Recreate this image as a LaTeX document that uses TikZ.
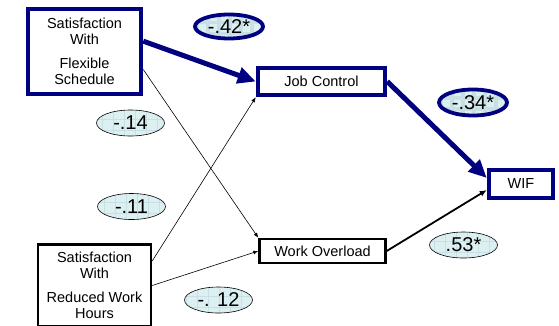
\documentclass[tikz,border=0pt]{standalone}
\usepackage{fontspec}
\setmainfont{Liberation Sans}
\usetikzlibrary{shapes.geometric,arrows.meta}
\definecolor{pathblue}{RGB}{0,0,128}
\definecolor{estcyan}{RGB}{220,239,241}
\definecolor{estgrid}{RGB}{200,224,228}
\tikzstyle{v} = [draw, rectangle, inner sep=0pt, align=center, font=\fontsize{14.5}{15.5}\selectfont]
\tikzstyle{est} = [draw, ellipse, inner sep=0pt, fill=estcyan, minimum width=68pt, minimum height=26pt, font=\fontsize{20}{20}\selectfont,
  path picture={\draw[estgrid,step=11pt] (path picture bounding box.south west) grid (path picture bounding box.north east);}]
\begin{document}
\begin{tikzpicture}[x=1pt,y=-1pt,
			sig/.style={v,line width=4.5pt,pathblue,text=black},
			ns/.style={v,line width=2.4pt},
			sigest/.style={est,line width=3.8pt,draw=pathblue,text=black},
			nsest/.style={est,line width=0.6pt},
			strong/.style={line width=5pt,pathblue,-{Triangle[length=18pt,width=16pt]}},
			weak/.style={line width=0.6pt,-{Latex[length=5pt,width=4pt]}}]
			\useasboundingbox (0,0) rectangle (559,325);
			\node (flex)[sig,minimum width=113pt,minimum height=85pt] at (84.5,51.5) {Satisfaction\\With\\[9pt]Flexible\\Schedule};
			\node (jc)[sig,minimum width=127pt,minimum height=27pt] at (321.5,81.5) {Job Control};
			\node (wif)[sig,minimum width=64pt,minimum height=28pt] at (521,184) {WIF};
			\node (wo)[ns,minimum width=126pt,minimum height=24pt] at (322.5,251) {Work Overload};
			\node (reduced)[ns,minimum width=113pt,minimum height=82pt] at (94.5,285.5) {Satisfaction\\With\\[9pt]Reduced Work\\Hours};
			\node (b1)[sigest,minimum height=24pt] at (229,26.5) {-.42*};
			\node (b2)[sigest] at (473,102.5) {-.34*};
			\node (b3)[nsest] at (130.5,123) {-.14};
			\node (b4)[nsest] at (131.5,206.5) {-.11};
			\node (b5)[nsest] at (218.5,300) {-. 12};
			\node (b6)[nsest] at (463.5,245) {.53*};
			\draw [strong] (flex.10) -- (jc.west);
			\draw [weak] (flex.-17) -- (wo.north west);
			\draw [weak] (reduced.23) -- (jc.south west);
			\draw [weak] (reduced.east) -- (wo.west);
			\draw [strong] (jc.east) -- (wif.170);
			\draw [line width=1.8pt,-{Latex[length=7pt,width=6pt]}] (wo.east) -- (wif.-170);
		\end{tikzpicture}
\end{document}
